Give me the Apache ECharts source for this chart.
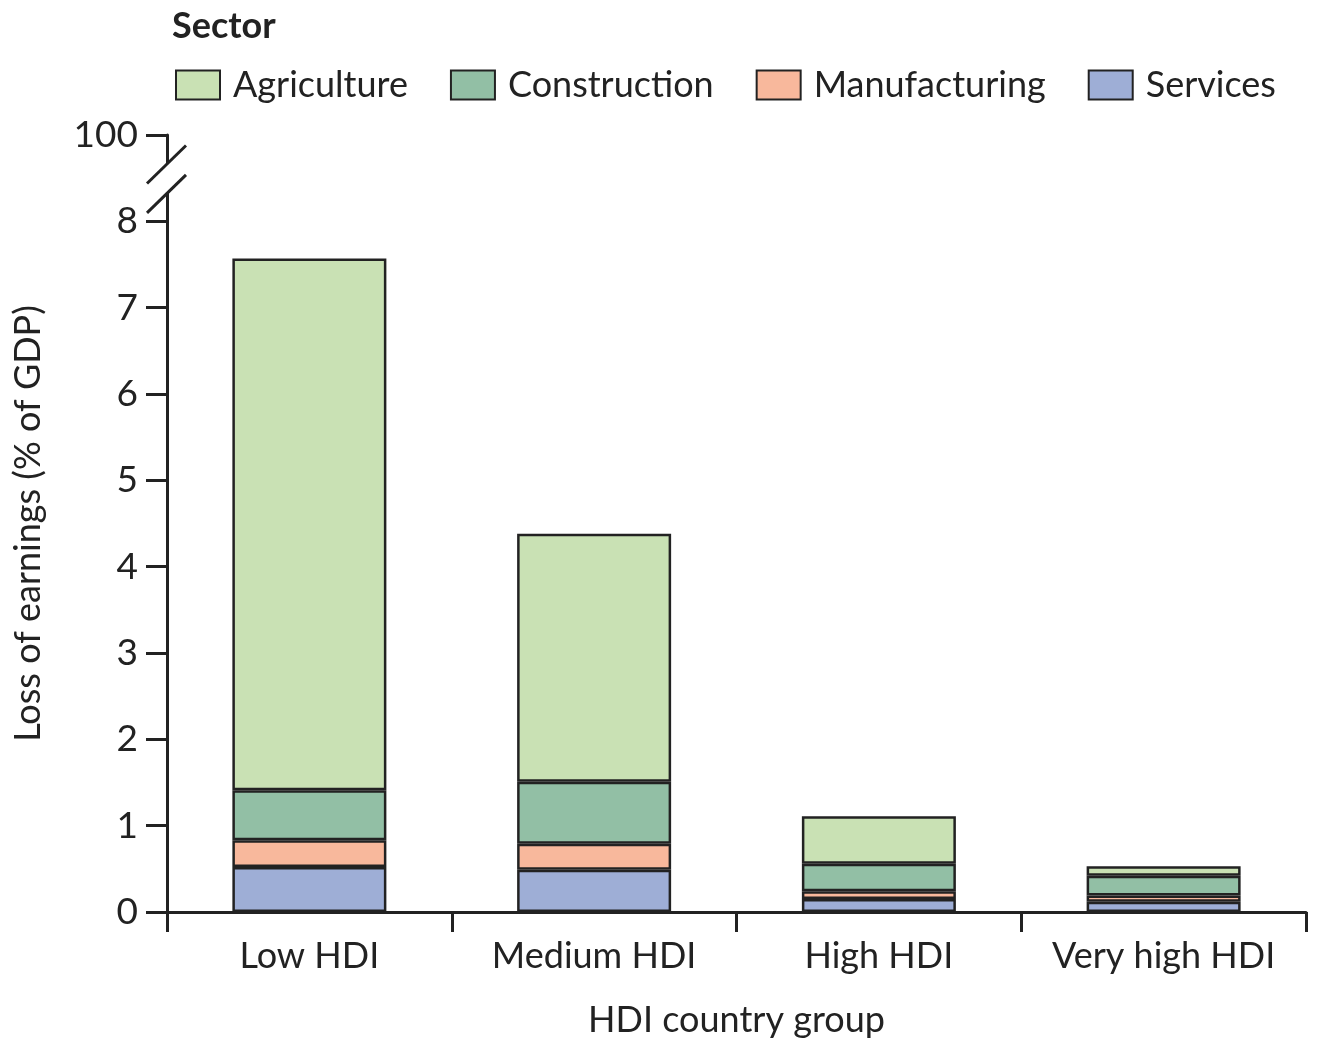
<!DOCTYPE html>
<html>
<head>
<meta charset="utf-8">
<script src="https://cdn.jsdelivr.net/npm/echarts@6/dist/echarts.min.js"></script>
<style>
  html, body { margin: 0; padding: 0; background: #fff; }
  #chart { width: 1321px; height: 1046px; }
</style>
</head>
<body>
<div id="chart"></div>
<script>
// HDI groups on the x axis
var groups = ['Low HDI', 'Medium HDI', 'High HDI', 'Very high HDI'];
// loss of earnings (% of GDP), one array per sector, stacked bottom -> top
var services      = [0.52, 0.49, 0.15, 0.12];
var manufacturing = [0.31, 0.30, 0.09, 0.07];
var construction  = [0.58, 0.72, 0.32, 0.23];
var agriculture   = [6.16, 2.87, 0.55, 0.11];
// y ticks; the last one stands for 100 above the axis break
var yTicks = ['0', '1', '2', '3', '4', '5', '6', '7', '8', '100'];
var legendOrder = ['Agriculture', 'Construction', 'Manufacturing', 'Services'];

var ink = '#222';
var fontName = 'Lato';

var myChart = echarts.init(document.getElementById('chart'));

function stackSeries(name, data, color) {
	return {
		name: name,
		type: 'bar',
		stack: 'sector',
		barWidth: 154,
		data: data,
		itemStyle: { color: color, borderColor: ink, borderWidth: 2.5 }
	};
}

var option = {
	animation: false,
	textStyle: { fontFamily: fontName },
	title: {
		text: 'Sector',
		left: 167,
		top: 3,
		textStyle: { fontFamily: fontName, fontSize: 36, fontWeight: 'bold', color: ink }
	},
	legend: {
		data: legendOrder,
		left: 170,
		top: 62,
		itemWidth: 44,
		itemHeight: 29,
		itemGap: 42,
		icon: 'rect',
		textStyle: { fontFamily: fontName, fontSize: 36, color: ink, padding: [0, 0, 0, 8] }
	},
	grid: { left: 167, right: 15, top: 135, bottom: 134, containLabel: false, outerBoundsMode: 'none' },
	xAxis: {
		type: 'category',
		data: groups,
		name: 'HDI country group',
		nameLocation: 'middle',
		nameGap: 90,
		nameTextStyle: { fontFamily: fontName, fontSize: 36, color: ink },
		axisLine: { lineStyle: { color: ink, width: 3 } },
		axisTick: { show: true, length: 20, lineStyle: { color: ink, width: 3 } },
		axisLabel: { interval: 0, margin: 26, fontSize: 36, color: ink, fontFamily: fontName }
	},
	yAxis: {
		type: 'value',
		min: 0,
		max: 9,
		interval: 1,
		name: 'Loss of earnings (% of GDP)',
		nameLocation: 'middle',
		nameGap: 121,
		nameTextStyle: { fontFamily: fontName, fontSize: 36, color: ink },
		splitLine: { show: false },
		axisLine: { show: true, lineStyle: { color: ink, width: 3 } },
		axisTick: { show: true, length: 21, lineStyle: { color: ink, width: 3 } },
		axisLabel: {
			margin: 29,
			fontSize: 37,
			color: ink,
			fontFamily: fontName,
			formatter: function(v) { return yTicks[Math.round(v)]; }
		}
	},
	series: [
		stackSeries('Services', services, '#9eaed6'),
		stackSeries('Manufacturing', manufacturing, '#f8b89c'),
		stackSeries('Construction', construction, '#92bfa5'),
		stackSeries('Agriculture', agriculture, '#c9e1b4')
	]
};

myChart.setOption(option);

// axis break: white out a piece of the y axis line and draw two slashes
function drawBreak() {
	var axisX = 167; // same as grid.left
	var yTop = myChart.convertToPixel({ yAxisIndex: 0 }, 8.67);
	var yBot = myChart.convertToPixel({ yAxisIndex: 0 }, 8.33);
	var slash = { stroke: ink, lineWidth: 3 };
	myChart.setOption({
		graphic: [
			{ type: 'rect', shape: { x: axisX - 4, y: yTop, width: 8, height: yBot - yTop }, style: { fill: '#fff' }, z: 100 },
			{ type: 'line', shape: { x1: axisX - 20, y1: yTop + 20, x2: axisX + 19, y2: yTop - 18 }, style: slash, z: 101 },
			{ type: 'line', shape: { x1: axisX - 20, y1: yBot + 20, x2: axisX + 19, y2: yBot - 18 }, style: slash, z: 101 }
		]
	});
}
drawBreak();
</script>
</body>
</html>
